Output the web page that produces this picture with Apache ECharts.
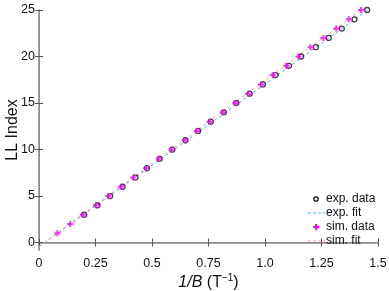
<!DOCTYPE html>
<html><head><meta charset="utf-8">
<script src="https://cdn.jsdelivr.net/npm/echarts@6/dist/echarts.min.js"></script>
<style>html,body{margin:0;padding:0;background:#fff}#c{width:389px;height:291px}</style>
</head><body><div id="c"></div>
<script>
// LL index values
const expIndex = [3,4,5,6,7,8,9,10,11,12,13,14,15,16,17,18,19,20,21,22,23,24,25];
const expInvB  = [0.200,0.259,0.315,0.370,0.427,0.478,0.534,0.590,0.648,0.704,0.760,0.818,0.873,0.932,0.991,1.047,1.106,1.160,1.225,1.282,1.340,1.396,1.452];
const simIndex = [1,2,3,4,5,6,7,8,9,10,11,12,13,14,15,16,17,18,19,20,21,22,23,24,25];
const simInvB  = [0.081,0.138,0.194,0.252,0.306,0.362,0.417,0.473,0.530,0.586,0.645,0.699,0.755,0.814,0.869,0.925,0.982,1.034,1.094,1.148,1.201,1.258,1.315,1.370,1.425];
// fit line endpoints
const expFitX = [0, 1.455];
const expFitY = [-0.45, 25.0];
const simFitX = [0, 1.425];
const simFitY = [-0.42, 25.0];
const xTicks = [0, 0.25, 0.5, 0.75, 1.0, 1.25, 1.5];
const yTicks = [0, 5, 10, 15, 20, 25];
const legendNames = ['exp. data', 'exp. fit', 'sim. data', 'sim. fit'];

const zip = (a, b) => a.map((v, i) => [v, b[i]]);
const plusPath = 'path://M2,0H4V2H6V4H4V6H2V4H0V2H2Z';
const font = '"Liberation Sans", Arial, Helvetica, sans-serif';
const fmtX = v => (v === 1 ? '1.0' : String(v));
const C_EXP = '#111', C_EXPFIT = '#4aa8e8', C_SIM = '#ff00ff', C_SIMFIT = '#ff9c9c';

// legend icons drawn as graphic elements; legend text comes from the legend component
const lgY0 = 199, lgDy = 14;
const legendGraphics = [];
legendNames.forEach((nm, i) => {
  const y = lgY0 + i * lgDy;
  if (i === 0) legendGraphics.push({type: 'circle', shape: {cx: 316, cy: y, r: 2.2}, z: 100,
    style: {fill: 'none', stroke: C_EXP, lineWidth: 1.3}});
  if (i === 2) legendGraphics.push({type: 'group', z: 100, children: [
    {type: 'line', shape: {x1: 313, y1: y, x2: 319, y2: y}, style: {stroke: C_SIM, lineWidth: 2}},
    {type: 'line', shape: {x1: 316, y1: y - 3, x2: 316, y2: y + 3}, style: {stroke: C_SIM, lineWidth: 2}}]});
  if (i === 1 || i === 3) legendGraphics.push({type: 'line', shape: {x1: 308, y1: y, x2: 325, y2: y}, z: 100,
    style: {stroke: i === 1 ? C_EXPFIT : C_SIMFIT, lineWidth: 1, lineDash: [3, 2]}});
});

const chart = echarts.init(document.getElementById('c'), null, {renderer: 'canvas'});
chart.setOption({
  animation: false,
  backgroundColor: '#fff',
  grid: {left: 39, right: 11, top: 10, bottom: 41, containLabel: false, outerBoundsMode: 'none'},
  legend: {
    orient: 'vertical', left: 306, top: 192, padding: 0, itemGap: 0,
    itemWidth: 15, itemHeight: 8, icon: 'rect', selectedMode: false,
    itemStyle: {color: 'rgba(0,0,0,0)', borderWidth: 0, opacity: 0},
    lineStyle: {opacity: 0},
    textStyle: {color: '#111', fontSize: 12, fontFamily: font, lineHeight: 14},
    data: legendNames
  },
  xAxis: [
    {type: 'value', min: 0, max: 1.5, interval: 0.25, position: 'bottom',
     axisLine: {lineStyle: {color: '#8a8a8a', width: 1.5}},
     axisTick: {inside: true, length: 4, lineStyle: {color: '#555'}},
     axisLabel: {color: '#111', fontSize: 12.5, fontFamily: font, margin: 7, formatter: fmtX, showMaxLabel: true, showMinLabel: true},
     splitLine: {show: false},
     name: '{i|1/B} (T{s|−1})', nameLocation: 'middle', nameGap: 23, nameMoveOverlap: false,
     nameTextStyle: {color: '#111', fontSize: 16, fontFamily: font,
       rich: {i: {fontStyle: 'italic', fontSize: 16, fontFamily: font, color: '#111'},
              s: {fontSize: 10, fontFamily: font, color: '#111', padding: [0, 0, 9, 0]}}}},
    {type: 'value', min: 0, max: 1.5, interval: 0.25, position: 'top',
     axisLine: {lineStyle: {color: '#8a8a8a', width: 1}},
     axisTick: {inside: true, length: 4, lineStyle: {color: '#555'}},
     axisLabel: {show: false}, splitLine: {show: false}}
  ],
  yAxis: [
    {type: 'value', min: -0.8, max: 25, position: 'left',
     axisLine: {show: true, lineStyle: {color: '#8a8a8a', width: 1.5}},
     axisTick: {show: true, inside: true, length: 4, customValues: yTicks, lineStyle: {color: '#555'}},
     axisLabel: {color: '#111', fontSize: 12.5, fontFamily: font, margin: 4, customValues: yTicks},
     splitLine: {show: false},
     name: 'LL Index', nameLocation: 'middle', nameGap: 18, nameRotate: 90, nameMoveOverlap: false,
     nameTextStyle: {color: '#111', fontSize: 16, fontFamily: font}},
    {type: 'value', min: -0.8, max: 25, position: 'right',
     axisLine: {show: true, lineStyle: {color: '#8a8a8a', width: 1}},
     axisTick: {show: true, inside: true, length: 4, customValues: yTicks, lineStyle: {color: '#555'}},
     axisLabel: {show: false}, splitLine: {show: false}}
  ],
  graphic: legendGraphics,
  series: [
    {name: legendNames[1], type: 'line', data: zip(expFitX, expFitY), symbol: 'none', z: 2,
     lineStyle: {color: C_EXPFIT, width: 1, type: [3, 3]}},
    {name: legendNames[3], type: 'line', data: zip(simFitX, simFitY), symbol: 'none', z: 2,
     lineStyle: {color: C_SIMFIT, width: 1, type: [3, 3]}},
    {name: legendNames[0], type: 'scatter', data: zip(expInvB, expIndex), symbol: 'circle', symbolSize: 5, z: 3,
     itemStyle: {color: 'rgba(0,0,0,0)', borderColor: C_EXP, borderWidth: 1.3}},
    {name: legendNames[2], type: 'scatter', data: zip(simInvB, simIndex), symbol: plusPath, symbolSize: 6, z: 4,
     itemStyle: {color: C_SIM}}
  ]
});
</script></body></html>
